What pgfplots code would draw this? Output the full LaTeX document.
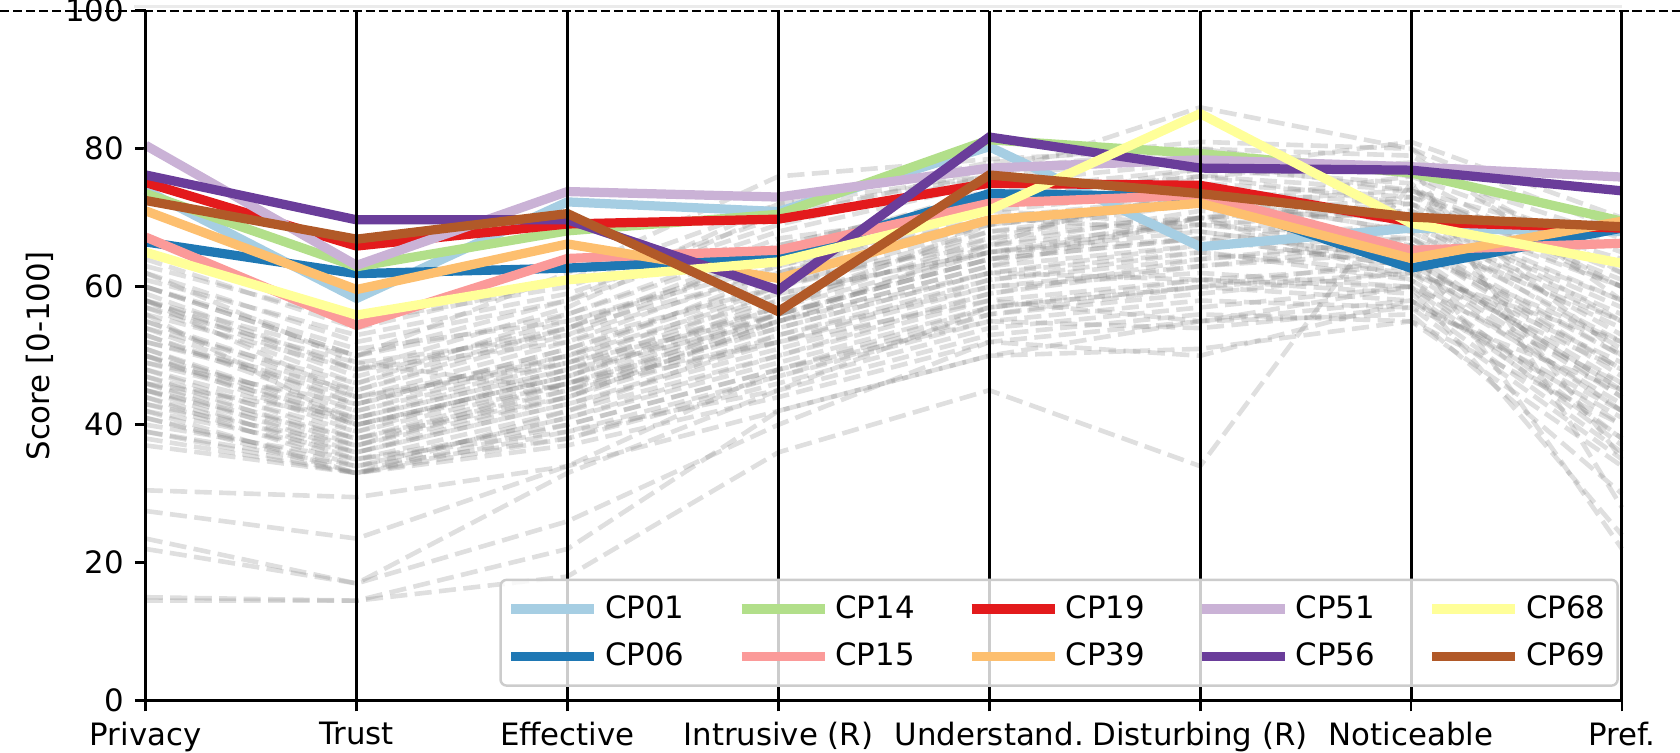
\documentclass[border=0pt]{standalone}
\usepackage{pgfplots}
\pgfplotsset{compat=1.18}
\usepackage{fontspec}
\setmainfont{DejaVu Sans}
\definecolor{c01}{HTML}{A6CEE3}
\definecolor{c06}{HTML}{1F78B4}
\definecolor{c14}{HTML}{B2DF8A}
\definecolor{c15}{HTML}{FB9A99}
\definecolor{c19}{HTML}{E31A1C}
\definecolor{c39}{HTML}{FDBF6F}
\definecolor{c51}{HTML}{CAB2D6}
\definecolor{c56}{HTML}{6A3D9A}
\definecolor{c68}{HTML}{FFFF99}
\definecolor{c69}{HTML}{B15928}
\definecolor{gline}{HTML}{808080}
\tikzset{greyline/.style={gline, draw opacity=0.25, line width=1.5pt, dash pattern=on 5.55pt off 2.4pt}}
\newcommand{\gl}[8]{\addplot[greyline, forget plot] coordinates {(0,#1)(1,#2)(2,#3)(3,#4)(4,#5)(5,#6)(6,#7)(7,#8)};}
\newcommand{\cl}[9]{\addplot[#1, line width=3pt, forget plot] coordinates {(0,#2)(1,#3)(2,#4)(3,#5)(4,#6)(5,#7)(6,#8)(7,#9)};}
\begin{document}
\begin{tikzpicture}
\begin{axis}[
  scale only axis, width=479.3pt, height=224pt,
  xmin=0, xmax=7, ymin=0, ymax=100,
  clip=false,
  axis x line*=bottom, axis y line*=left,
  axis line style={line width=0.9pt, -},
  tick align=outside, major tick length=3.5pt,
  tick style={black, line width=0.9pt},
  xtick={0,1,2,3,4,5,6,7},
  xticklabels={Privacy,Trust,Effective,Intrusive (R),Understand.,Disturbing (R),Noticeable,Pref.},
  ytick={0,20,40,60,80,100},
  /pgf/number format/assume math mode=true,
  ticklabel style={font=\fontsize{10}{12}\selectfont},
  ylabel={Score [0-100]},
  ylabel style={at={([xshift=-34.5pt]rel axis cs:0,0.5)}, anchor=center, rotate=0, font=\fontsize{10}{12}\selectfont},
  legend columns=5,
  legend image code/.code={\draw[#1] (0pt,0pt) -- (27pt,0pt);},
  legend style={at={([xshift=-1pt,yshift=4.5pt]rel axis cs:1,0)}, anchor=south east,
    draw=black!20, line width=0.8pt, rounded corners=2pt, fill=white, fill opacity=0.8, text opacity=1,
    font=\fontsize{10}{12}\selectfont, row sep=2.5pt, inner xsep=2pt, inner ysep=3pt,
    /tikz/every even column/.append style={column sep=15pt}},
]
\coordinate (O) at (rel axis cs:0,0);
% grey participants
\gl{63}{55}{60}{70}{77}{80}{79}{62}
\gl{62}{52}{58}{68}{75}{78}{74}{60}
\gl{60}{50}{56}{66}{73}{76}{72}{55}
\gl{59}{48}{57}{71}{76}{74}{70}{58}
\gl{58}{47}{55}{64}{72}{75}{73}{64}
\gl{57}{46}{54}{62}{70}{73}{68}{52}
\gl{56}{48}{52}{60}{69}{72}{74}{66}
\gl{55}{45}{53}{65}{74}{77}{75}{50}
\gl{55}{44}{50}{58}{68}{70}{71}{60}
\gl{54}{46}{56}{67}{71}{69}{66}{48}
\gl{53}{43}{51}{61}{66}{71}{70}{57}
\gl{53}{42}{49}{57}{67}{74}{72}{63}
\gl{52}{44}{52}{63}{70}{68}{64}{45}
\gl{51}{41}{48}{59}{65}{67}{69}{55}
\gl{51}{40}{47}{56}{64}{70}{73}{61}
\gl{50}{42}{50}{62}{72}{75}{70}{53}
\gl{50}{39}{46}{55}{63}{66}{67}{50}
\gl{49}{41}{49}{60}{68}{72}{76}{65}
\gl{48}{38}{45}{54}{62}{65}{62}{42}
\gl{48}{40}{47}{58}{66}{69}{71}{58}
\gl{47}{37}{44}{53}{61}{64}{66}{47}
\gl{47}{39}{48}{57}{69}{73}{68}{54}
\gl{46}{38}{46}{52}{60}{62}{60}{40}
\gl{46}{36}{43}{51}{59}{63}{65}{52}
\gl{45}{37}{45}{56}{64}{67}{63}{44}
\gl{45}{35}{42}{50}{58}{61}{59}{38}
\gl{44}{36}{44}{55}{63}{70}{72}{60}
\gl{44}{34}{41}{49}{57}{60}{58}{36}
\gl{43}{35}{40}{48}{56}{59}{62}{48}
\gl{43}{37}{46}{54}{62}{66}{69}{56}
\gl{42}{33}{39}{47}{55}{58}{57}{35}
\gl{42}{36}{43}{52}{61}{65}{61}{43}
\gl{41}{34}{38}{46}{54}{57}{60}{46}
\gl{41}{33}{42}{53}{60}{63}{66}{50}
\gl{40}{35}{39}{45}{53}{56}{55}{34}
\gl{39}{33}{40}{48}{57}{61}{63}{49}
\gl{39}{34}{41}{50}{59}{64}{67}{55}
\gl{38}{33}{37}{44}{52}{55}{58}{41}
\gl{37}{33}{38}{47}{56}{60}{64}{45}
\gl{61}{53}{59}{69}{76}{79}{77}{67}
\gl{64}{54}{61}{72}{78}{81}{80}{68}
\gl{60}{51}{55}{63}{71}{74}{69}{51}
\gl{57}{49}{53}{62}{69}{72}{65}{44}
\gl{54}{43}{51}{60}{67}{70}{61}{38}
\gl{52}{45}{54}{66}{73}{76}{74}{62}
\gl{49}{43}{50}{59}{65}{68}{64}{46}
\gl{56}{40}{47}{57}{65}{69}{67}{48}
\gl{58}{44}{49}{56}{64}{67}{63}{42}
\gl{46}{41}{48}{55}{62}{61}{60}{37}
\gl{62}{49}{45}{52}{58}{55}{56}{30}
\gl{30.5}{29.5}{34}{42}{50}{51}{55}{40}
\gl{27.5}{23.5}{34}{48}{55}{54}{57}{45}
\gl{23.5}{17}{26}{40}{52}{50}{58}{42}
\gl{22}{17}{33}{45}{57}{60}{62}{52}
\gl{15}{14.5}{18}{36}{45}{34}{75}{35}
\gl{14.5}{14.5}{22}{42}{50}{55}{60}{24}
\gl{60}{50}{58}{72}{76}{86}{80}{58}
\gl{58}{48}{54}{65}{72}{77}{81}{70}
\gl{50}{40}{46}{56}{65}{70}{66}{22}
\gl{45}{38}{44}{55}{66}{76}{78}{28}
\gl{58}{50}{62}{76}{78.5}{80}{76}{60}
% highlighted participants
\cl{c01}{74}{58.3}{72.3}{70.9}{80.3}{65.8}{68.5}{68}
\cl{c06}{66.5}{61.9}{62.7}{64.3}{73.5}{73}{62.7}{68.5}
\cl{c14}{73.5}{62.9}{68.1}{70.5}{81.3}{79.3}{76.5}{69.5}
\cl{c15}{67.2}{54.4}{64.1}{65.3}{72.1}{73.3}{65.3}{66.3}
\cl{c19}{75.1}{65.9}{69.1}{69.8}{75}{74.7}{69.4}{68.5}
\cl{c39}{71}{59.6}{66.2}{61.2}{69.7}{72.1}{64.1}{69.5}
\cl{c51}{80.5}{63.1}{73.8}{73}{77.2}{78.4}{77.4}{75.9}
\cl{c56}{76.2}{69.7}{69.7}{59.5}{81.7}{77.2}{76.9}{73.9}
\cl{c68}{65}{55.9}{61}{63.6}{71.1}{85.1}{69.2}{63.4}
\cl{c69}{72.5}{66.9}{70.6}{56.4}{76.2}{73.5}{70.1}{68.7}
% vertical axes
\pgfplotsinvokeforeach{0,...,7}{\addplot[black, line width=1pt, forget plot] coordinates {(#1,0)(#1,100)};}
\draw[black, line width=0.8pt, dash pattern=on 2.96pt off 1.28pt] ([xshift=-60pt]rel axis cs:0,1) -- ([xshift=60pt]rel axis cs:1,1);
\draw[black!8, line width=0.8pt] ([xshift=-3.7pt,yshift=1.4pt]rel axis cs:0,1) -- ([yshift=1.4pt]rel axis cs:1,1);
% legend (row-wise order)
\addlegendimage{c01, line width=3pt}\addlegendentry{CP01}
\addlegendimage{c14, line width=3pt}\addlegendentry{CP14}
\addlegendimage{c19, line width=3pt}\addlegendentry{CP19}
\addlegendimage{c51, line width=3pt}\addlegendentry{CP51}
\addlegendimage{c68, line width=3pt}\addlegendentry{CP68}
\addlegendimage{c06, line width=3pt}\addlegendentry{CP06}
\addlegendimage{c15, line width=3pt}\addlegendentry{CP15}
\addlegendimage{c39, line width=3pt}\addlegendentry{CP39}
\addlegendimage{c56, line width=3pt}\addlegendentry{CP56}
\addlegendimage{c69, line width=3pt}\addlegendentry{CP69}
\end{axis}
\pgfresetboundingbox
\path[use as bounding box] ([xshift=-47.3pt,yshift=-16.66pt]O) rectangle ([xshift=498.15pt,yshift=227.5pt]O);
\end{tikzpicture}
\end{document}
